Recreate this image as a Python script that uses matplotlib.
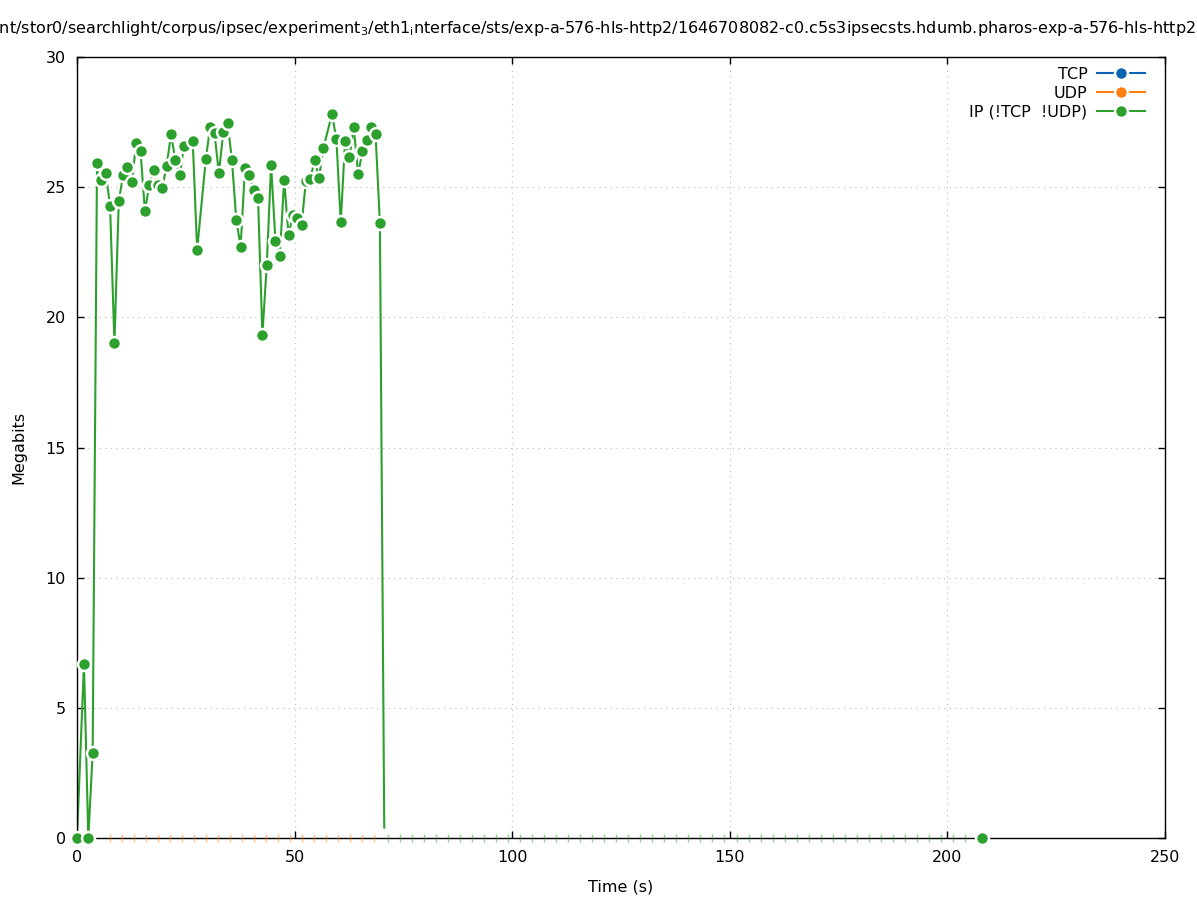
import numpy as np
import matplotlib
matplotlib.use("Agg")
import matplotlib.pyplot as plt
from matplotlib.lines import Line2D

plt.rcParams['font.family'] = ['DejaVu Sans']
plt.rcParams['mathtext.fontset'] = 'dejavusans'

# ---------------- data ----------------
title = ("/mnt/stor0/searchlight/corpus/ipsec/experiment$_\\mathrm{3}$/eth1$_\\mathrm{i}$nterface/sts/"
         "exp-a-576-hls-http2/1646708082-c0.c5s3ipsecsts.hdumb.pharos-exp-a-576-hls-http2.pcap")

ip_t = [0, 1.6, 2.6, 3.6, 4.6, 5.6, 6.6, 7.6, 8.6, 9.6, 10.6, 11.6, 12.6, 13.6, 14.6,
        15.6, 16.6, 17.6, 18.6, 19.6, 20.6, 21.6, 22.6, 23.6, 24.6, 26.6, 27.6, 29.6,
        30.6, 31.6, 32.6, 33.6, 34.6, 35.6, 36.6, 37.6, 38.6, 39.6, 40.6, 41.6, 42.6,
        43.6, 44.6, 45.6, 46.6, 47.6, 48.6, 49.6, 50.6, 51.6, 52.6, 53.6, 54.6, 55.6,
        56.6, 58.6, 59.6, 60.6, 61.6, 62.6, 63.6, 64.6, 65.6, 66.6, 67.6, 68.6, 69.6]
ip_mbits = [0.0, 6.68, 0.0, 3.27, 25.94, 25.28, 25.55, 24.28, 19.0, 24.47, 25.47, 25.77,
            25.2, 26.69, 26.39, 24.09, 25.07, 25.65, 25.1, 24.97, 25.82, 27.03, 26.04,
            25.46, 26.6, 26.76, 22.59, 26.07, 27.33, 27.07, 25.53, 27.10, 27.46, 26.05,
            23.74, 22.72, 25.73, 25.46, 24.89, 24.57, 19.32, 22.01, 25.84, 22.94, 22.36,
            25.28, 23.17, 23.93, 23.8, 23.55, 25.25, 25.3, 26.05, 25.35, 26.5, 27.81,
            26.84, 23.65, 26.78, 26.14, 27.30, 25.50, 26.4, 26.82, 27.33, 27.05, 23.61]
# the IP series then drops to zero (line stops just above the axis) ...
ip_drop_t = [70.6]
ip_drop_mbits = [0.4]
# ... and its last sample is a zero at the far end
ip_last_t = [208.0]
ip_last_mbits = [0.0]

# zero-valued samples drawn along the time axis
udp_zero_t = np.arange(7.6, 69.0, 2.76)
udp_zero = np.zeros_like(udp_zero_t)
ip_zero_t = np.arange(71.5, 206.0, 2.76)
ip_zero = np.zeros_like(ip_zero_t)

series_names = ["TCP", "UDP", "IP (!TCP  !UDP)"]
series_colors = ["#0a63b3", "#ff7f0e", "#2ca02c"]

x_ticks = [0, 50, 100, 150, 200, 250]
y_ticks = [0, 5, 10, 15, 20, 25, 30]

# ---------------- figure ----------------
W, H, DPI = 1197, 900, 100
fig = plt.figure(figsize=(W / DPI, H / DPI), dpi=DPI)
ax = fig.add_axes([77 / W, 1 - 838 / H, (1165 - 77) / W, (838 - 57) / H])

FS = 11.5
green = series_colors[2]
MS, MEW, LW = 9.3, 1.8, 1.5

ax.plot(ip_t + ip_drop_t, ip_mbits + ip_drop_mbits, color=green, lw=LW, zorder=2)
# markers with white rings (drawn in order so later rings cut earlier dots)
ax.plot(ip_t + ip_last_t, ip_mbits + ip_last_mbits, ls='none', marker='o',
        ms=MS, mfc=green, mec='white', mew=MEW, zorder=3, clip_on=False)

# tiny zero-sample ticks
ax.plot(udp_zero_t, udp_zero, ls='none', marker='|', ms=5.5, mew=1,
        color=series_colors[1], alpha=0.5, zorder=4, clip_on=False)
ax.plot(ip_zero_t, ip_zero, ls='none', marker='|', ms=5.5, mew=1,
        color=green, alpha=0.5, zorder=4, clip_on=False)

ax.set_xlim(0, 250)
ax.set_ylim(0, 30)
ax.set_xticks(x_ticks)
ax.set_yticks(y_ticks)
ax.tick_params(direction='in', length=5, width=1, top=True, right=True,
               labelsize=FS, colors='black')
ax.tick_params(axis='x', pad=9)
ax.tick_params(axis='y', pad=8)
ax.grid(True, linestyle=(0, (1, 4)), color='#bbbbbb', lw=0.8)
ax.set_axisbelow(True)
for s in ax.spines.values():
    s.set_linewidth(1.0)
    s.set_zorder(2.5)

ax.set_xlabel("Time (s)", fontsize=FS, labelpad=10)
ax.set_ylabel("Megabits", fontsize=FS, labelpad=14)

fig.text(-22 / W, 1 - 28 / H, title, fontsize=11.5, ha='left', va='center')

handles = [Line2D([], [], color=c, lw=LW, marker='o', ms=MS, mfc=c, mec='white', mew=MEW)
           for c in series_colors]
leg = ax.legend(handles, series_names, loc='upper right',
                bbox_to_anchor=((1145 - 77) / 1088, (838 - 67) / 781),
                frameon=False, markerfirst=False, fontsize=FS, handlelength=3.0,
                handletextpad=0.6, labelspacing=0.25, borderpad=0, borderaxespad=0,
                numpoints=1)

fig.savefig("out.png", dpi=DPI)
